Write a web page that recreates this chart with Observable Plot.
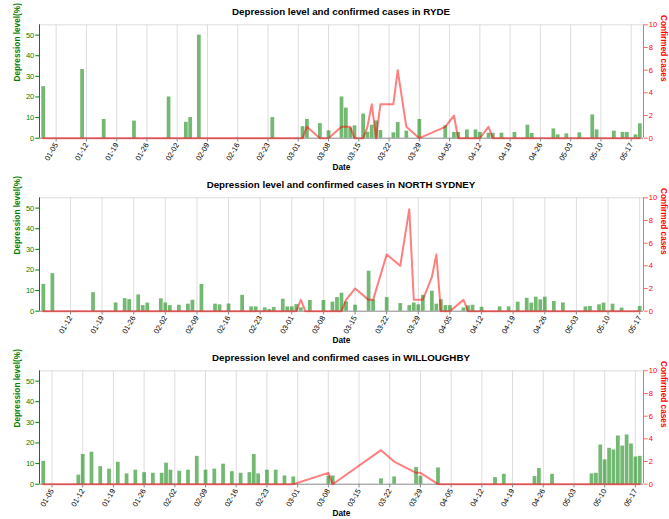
<!DOCTYPE html>
<html>
<head>
<meta charset="utf-8">
<script src="https://cdn.jsdelivr.net/npm/d3@7"></script>
<script src="https://cdn.jsdelivr.net/npm/@observablehq/plot@0.6"></script>
<style>
  html, body { margin: 0; padding: 0; background: #fff; }
  body { width: 669px; height: 519px; overflow: hidden; font-family: "Liberation Sans", Arial, Helvetica, sans-serif; }
  .panel { width: 669px; height: 173px; }
  .title { box-sizing: border-box; height: 21px; padding: 3px 26px 0 39px; line-height: 18px;
           text-align: center; font-size: 9.75px; font-weight: bold; color: #000; white-space: nowrap; }
</style>
</head>
<body>
<div id="root"></div>
<script>
// ---------------- RYDE ----------------
const rydeDates = ["01-02","01-11","01-16","01-23","01-31","02-04","02-05","02-07","02-24","03-02","03-03","03-06","03-08","03-11","03-12","03-13","03-14","03-16","03-17","03-18","03-19","03-20","03-23","03-24","03-26","03-29","04-04","04-06","04-07","04-09","04-11","04-12","04-14","04-15","04-17","04-20","04-23","04-24","04-29","04-30","05-02","05-05","05-08","05-09","05-13","05-15","05-16","05-18","05-19"];
const rydeDepression = [25,33.3,9.1,8.3,20,7.7,10,50,10,5.6,9.1,7.1,3.6,20,14.6,5,6,11.7,2.9,6.3,8.4,3.7,2.6,7.6,3.4,9.1,6,2.8,2.8,4,4,2.8,2.4,2.4,2.4,2.8,6.3,2.3,4.5,1.6,2.1,2.6,11.3,4,3.4,2.8,2.8,1.6,7];
const rydeCases = [0,0,0,0,0,0,0,0,0,0,1,0,0,1,1,1,0,0,1,3,0,3,3,6,1,0,1,2,0,0,0,0,1,0,0,0,0,0,0,0,0,0,0,0,0,0,0,0,0];

// ---------------- NORTH SYDNEY ----------------
const nsDates = ["01-06","01-08","01-17","01-22","01-24","01-25","01-27","01-28","01-29","02-01","02-02","02-03","02-05","02-07","02-08","02-10","02-13","02-14","02-16","02-19","02-21","02-22","02-24","02-25","02-26","02-28","02-29","03-01","03-02","03-03","03-04","03-05","03-08","03-10","03-11","03-12","03-13","03-15","03-18","03-19","03-22","03-25","03-27","03-28","03-29","03-30","04-01","04-02","04-03","04-04","04-05","04-08","04-09","04-10","04-12","04-16","04-18","04-20","04-22","04-23","04-24","04-25","04-26","04-28","04-30","05-05","05-06","05-08","05-09","05-11","05-13","05-17"];
const nsDepression = [13,18.2,9,4,6.1,5.6,7.9,2.7,3.9,6,4,2.7,2.9,3.4,5.3,13,3.4,3.1,3.5,7.7,2.1,2.1,1.6,0.8,1.8,5.8,2.1,2.1,3.2,1.6,null,5.2,5.2,4.4,6.6,8.7,4.5,2.9,19.4,5.5,6.6,3.7,2.7,4,3.1,7.7,9.7,3.4,5.6,2.7,2.7,1.6,2.6,2.9,1.9,2.1,2.1,4.4,6.3,3.9,6.8,5.5,6.8,4.7,4,2.1,2.3,3.1,3.9,3.4,1.5,2.3];
const nsCases = [0,0,0,0,0,0,0,0,0,0,0,0,0,0,0,0,0,0,0,0,0,0,0,0,0,0,0,0,0,1,0,0,0,0,0,0,1,2,1,1,5,4,9,1,1,1,3,5,0,0,0,1,0,0,0,0,0,0,0,0,0,0,0,0,0,0,0,0,0,0,0,0];

// ---------------- WILLOUGHBY ----------------
const wDates = ["01-03","01-11","01-12","01-14","01-16","01-18","01-20","01-22","01-24","01-26","01-28","01-30","01-31","02-01","02-03","02-05","02-07","02-09","02-11","02-13","02-15","02-17","02-19","02-20","02-21","02-23","02-25","02-27","02-29","03-08","03-09","03-20","03-23","03-28","03-29","04-02","04-15","04-17","04-24","04-25","04-28","05-07","05-08","05-09","05-10","05-11","05-12","05-13","05-14","05-15","05-16","05-17","05-18"];
const wDepression = [11.1,4.4,14.4,15.5,8.5,7.3,10.6,5,6.8,5.6,5.3,5.3,10.2,6.8,6.3,6.8,13.5,6.8,7.3,9.7,6.1,5.3,5.6,14.4,5,6.8,6.8,4,3.5,3.9,4,2.6,3.5,8.1,3.9,7.9,3.2,4.8,3.7,7.6,4.8,5,5.3,19,11.8,17.4,16.6,23.4,18.5,23.9,19.5,13.2,13.5];
const wCases = [0,0,0,0,0,0,0,0,0,0,0,0,0,0,0,0,0,0,0,0,0,0,0,0,0,0,0,0,0,1,0,3,2,1,1,0,0,0,0,0,0,0,0,0,0,0,0,0,0,0,0,0,0];

const areas = ["RYDE", "NORTH SYDNEY", "WILLOUGHBY"];
const leftTicks = [0, 10, 20, 30, 40, 50];
const rightTicks = [0, 2, 4, 6, 8, 10];

const parse = d3.utcParse("%Y-%m-%d");
const FONT = '"Liberation Sans", Arial, Helvetica, sans-serif';
const DEP_MAX = 55, CASES_MAX = 10, K = DEP_MAX / CASES_MAX;

function panel(area, dates, dep, cases) {
  const data = dates.map((d, i) => ({date: parse("2020-" + d), dep: dep[i], cases: cases[i]}));
  const pad = 0.85 * 864e5;
  const domain = [new Date(+data[0].date - pad), new Date(+data[data.length - 1].date + pad)];
  const weeks = d3.utcSunday.range(domain[0], domain[1]);

  const wrap = document.createElement("div");
  wrap.className = "panel";
  const t = document.createElement("div");
  t.className = "title";
  t.textContent = "Depression level and confirmed cases in " + area;
  wrap.appendChild(t);

  const chart = Plot.plot({
    width: 669, height: 152,
    marginTop: 3.3, marginBottom: 35.3, marginLeft: 39, marginRight: 26,
    style: {overflow: "visible", fontFamily: FONT, background: "white"},
    x: {type: "utc", domain},
    y: {domain: [0, DEP_MAX]},
    marks: [
      Plot.gridX(weeks, {stroke: "#dddddd", strokeOpacity: 1}),
      Plot.ruleY([DEP_MAX], {stroke: "#dddddd"}),
      Plot.ruleY([0], {stroke: "#888888"}),
      Plot.ruleX(data.filter(d => d.dep != null), {x: "date", y1: 0, y2: "dep", stroke: "green", strokeOpacity: 0.55, strokeWidth: 3.75}),
      Plot.line(data, {x: "date", y: d => d.cases * K, stroke: "red", strokeOpacity: 0.5, strokeWidth: 2, strokeMiterlimit: 10}),
      Plot.axisX(weeks, {tickFormat: d3.utcFormat("%m-%d"), tickRotate: -60, tickSize: 3.75, tickPadding: 1.5,
                         fontSize: 7.5, stroke: "#888888", fill: "#000", label: null}),
      Plot.axisY(leftTicks, {anchor: "left", tickSize: 3.75, tickPadding: 1.5, fontSize: 7.5, stroke: "green", fill: "green", label: null}),
      Plot.ruleX([domain[0]], {stroke: "green"}),
      Plot.axisY(rightTicks.map(v => v * K), {anchor: "right", tickFormat: v => Math.round(v / K), tickSize: 3.75, tickPadding: 1.5,
                         fontSize: 7.5, stroke: "red", strokeOpacity: 0.6, fill: "red", label: null}),
      Plot.ruleX([domain[1]], {stroke: "red", strokeOpacity: 0.6}),
      Plot.text(["Depression level(%)"], {frameAnchor: "left", dx: -21.7, rotate: -90, fontWeight: "bold", fontSize: 8.25, fill: "green"}),
      Plot.text(["Confirmed cases"], {frameAnchor: "right", dx: 20.5, rotate: 90, fontWeight: "bold", fontSize: 8.25, fill: "red"}),
      Plot.text(["Date"], {frameAnchor: "bottom", dy: 31.5, fontWeight: "bold", fontSize: 8.25, fill: "#000"})
    ]
  });
  wrap.appendChild(chart);
  return wrap;
}

const root = document.getElementById("root");
root.appendChild(panel(areas[0], rydeDates, rydeDepression, rydeCases));
root.appendChild(panel(areas[1], nsDates, nsDepression, nsCases));
root.appendChild(panel(areas[2], wDates, wDepression, wCases));
</script>
</body>
</html>
